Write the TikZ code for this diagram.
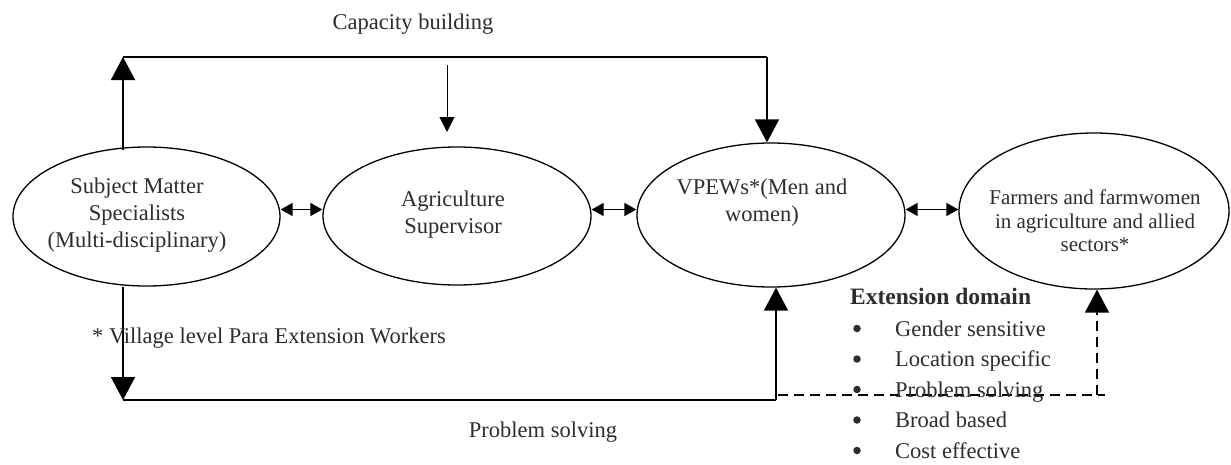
\documentclass[tikz,border=0pt]{standalone}
\usepackage{fontspec}
\setmainfont{Liberation Serif}
\usetikzlibrary{arrows.meta,shapes.geometric}
\definecolor{txt}{RGB}{45,45,45}
\begin{document}
\begin{tikzpicture}[x=1pt,y=-1pt,
  oval/.style={draw,ellipse,line width=1.3pt,inner sep=0pt},
  lbl/.style={text=txt,font=\fontsize{22.5}{27}\selectfont,inner sep=0pt,align=center},
  lblsm/.style={text=txt,font=\fontsize{21}{23.5}\selectfont,inner sep=0pt,align=center},
  dot/.style={circle,fill=txt,inner sep=0pt,minimum size=7.5pt},
  big/.style={line width=1.7pt,-{Triangle[length=23pt,width=24pt]}},
  small/.style={line width=1pt,-{Triangle[length=15pt,width=15pt]}},
  dbl/.style={line width=1.5pt,{Triangle[length=12pt,width=13pt]}-{Triangle[length=12pt,width=13pt]}},
  plain/.style={line width=1.7pt},
  dsh/.style={line width=1.6pt,dash pattern=on 10pt off 6pt}
]
\useasboundingbox (0,0) rectangle (1231,464);

% ellipses
\node[oval,minimum width=267pt,minimum height=139pt] (E1) at (146.5,216.5) {};
\node[oval,minimum width=268pt,minimum height=138pt] (E2) at (457,216) {};
\node[oval,minimum width=268pt,minimum height=144pt] (E3) at (771,215) {};
\node[oval,minimum width=270pt,minimum height=156pt] (E4) at (1094,211) {};

% ellipse texts
\node[lbl] (T1) at (137,215) {Subject Matter\\Specialists\\(Multi-disciplinary)};
\node[lbl] (T2) at (453,215) {Agriculture\\Supervisor};
\node[lbl] (T3) at (762,203) {VPEWs*(Men and\\women)};
\node[lblsm] (T4) at (1095,221) {Farmers and farmwomen\\in agriculture and allied\\sectors*};

% double arrows
\coordinate (row) at (0,209.5);
\draw[dbl] (E1.east |- row) -- (E2.west |- row);
\draw[dbl] (E2.east |- row) -- (E3.west |- row);
\draw[dbl] (E3.east |- row) -- (E4.west |- row);

% capacity building loop
\coordinate (tl) at (123,57);
\coordinate (tr) at (767,57);
\draw[big] (E1.north -| tl) ++(0,4) -- (tl);
\draw[plain] (tl) -- (tr);
\draw[big] (tr) -- (E3.north -| tr);
\coordinate (sa) at (447,65);
\coordinate (sb) at (447,132);
\draw[small] (sa) -- (sb);

% problem solving loop
\coordinate (bl) at (123,400);
\coordinate (br) at (776,400);
\draw[big] (E1.south -| bl) -- (bl);
\draw[plain] (bl) -- (br);
\draw[big] (br) -- (E3.south -| br);

% dashed link
\coordinate (dl) at (778,395);
\coordinate (dr) at (1105,395);
\coordinate (dv) at (1097,395);
\draw[dsh] (dl) -- (dr);
\draw[dsh,-{Triangle[length=23pt,width=24pt]}] (dv) -- (E4.south -| dv);

% labels
\node[lbl,anchor=base] (cap) at (413,29) {Capacity building};
\node[lbl,anchor=base] (ps) at (543,437) {Problem solving};
\node[lbl,anchor=base west] (vil) at (92,343) {* Village level Para Extension Workers};

% extension domain
\node[lbl,anchor=base west,font=\fontsize{23.5}{27}\selectfont\bfseries] (ed) at (850,304) {Extension domain};
\foreach \y/\t [count=\i] in {336/Gender sensitive,366.5/Location specific,397/Problem solving,427.5/Broad based,458/Cost effective}{
  \node[dot] (bu\i) at (857,\y-7.5) {};
  \node[lbl,anchor=base west] (it\i) at (895,\y) {\t};
}
\end{tikzpicture}
\end{document}
